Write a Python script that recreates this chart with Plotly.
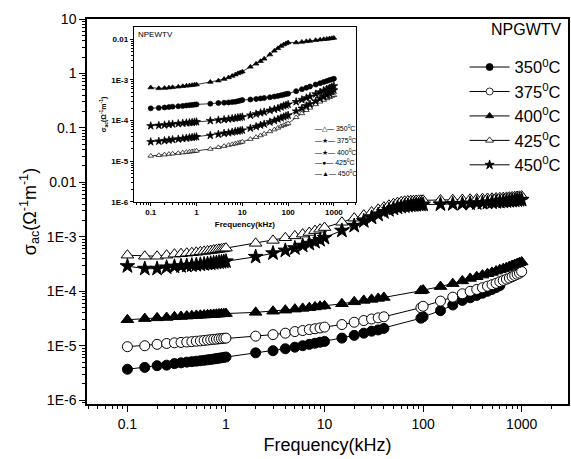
import plotly.graph_objects as go

# ---------------- main-plot data (frequency in kHz, conductivity in S/m) ----------------
F_DENSE = [0.1, 0.15, 0.2, 0.25, 0.3, 0.35, 0.4, 0.45, 0.5, 0.55, 0.6, 0.65, 0.7, 0.75,
           0.8, 0.85, 0.9, 0.95, 1, 2, 3, 4, 5, 6, 7, 8, 9, 10, 15, 20, 25, 30, 35, 40]
F_LOW_TAIL = [95, 100, 150, 200, 250, 300, 350, 400, 450, 500, 550, 600, 650, 700, 750,
              800, 850, 900, 950, 1000]
F_HIGH_TAIL = [45, 50, 55, 60, 65, 70, 75, 80, 85, 90, 95, 100, 150, 200, 250, 300, 350,
               400, 450, 500, 550, 600, 650, 700, 750, 800, 850, 900, 950, 1000]

F_350 = F_DENSE + [95, 100, 150, 200, 250, 300, 350, 400, 450, 500, 550, 600]
F_375 = F_DENSE + F_LOW_TAIL
F_400 = F_DENSE + F_LOW_TAIL
F_425 = F_DENSE + F_HIGH_TAIL
F_450 = F_DENSE + F_HIGH_TAIL

S_350 = [3.7e-6, 4.0e-6, 4.3e-6, 4.4e-6, 4.7e-6, 4.85e-6, 5.0e-6, 5.1e-6, 5.2e-6, 5.3e-6,
         5.4e-6, 5.5e-6, 5.6e-6, 5.7e-6, 5.8e-6, 5.9e-6, 6.0e-6, 6.1e-6, 6.2e-6,
         7.4e-6, 8.1e-6, 8.8e-6, 9.4e-6, 1.0e-5, 1.06e-5, 1.11e-5, 1.16e-5, 1.2e-5,
         1.38e-5, 1.55e-5, 1.7e-5, 1.85e-5, 1.95e-5, 2.08e-5,
         3.2e-5, 3.4e-5, 4.4e-5, 5.6e-5, 6.8e-5, 7.6e-5, 8.4e-5, 9.2e-5, 1.0e-4, 1.08e-4,
         1.17e-4, 1.27e-4]
S_375 = [9.6e-6, 1.0e-5, 1.06e-5, 1.1e-5, 1.13e-5, 1.15e-5, 1.17e-5, 1.19e-5, 1.21e-5,
         1.23e-5, 1.25e-5, 1.27e-5, 1.29e-5, 1.31e-5, 1.32e-5, 1.34e-5, 1.35e-5, 1.37e-5,
         1.38e-5,
         1.5e-5, 1.6e-5, 1.7e-5, 1.82e-5, 1.9e-5, 1.98e-5, 2.05e-5, 2.12e-5, 2.2e-5,
         2.45e-5, 2.7e-5, 2.9e-5, 3.1e-5, 3.25e-5, 3.4e-5,
         5.0e-5, 5.3e-5, 6.6e-5, 7.8e-5, 9.0e-5, 1.0e-4, 1.08e-4, 1.16e-4, 1.24e-4, 1.32e-4,
         1.4e-4, 1.5e-4, 1.58e-4, 1.67e-4, 1.75e-4, 1.85e-4, 1.95e-4, 2.05e-4, 2.15e-4, 2.3e-4]
S_400 = [3.0e-5, 3.15e-5, 3.25e-5, 3.3e-5, 3.4e-5, 3.45e-5, 3.5e-5, 3.55e-5, 3.6e-5,
         3.63e-5, 3.66e-5, 3.7e-5, 3.73e-5, 3.76e-5, 3.79e-5, 3.82e-5, 3.85e-5, 3.88e-5,
         3.9e-5,
         4.1e-5, 4.3e-5, 4.5e-5, 4.7e-5, 4.85e-5, 5.0e-5, 5.15e-5, 5.3e-5, 5.4e-5,
         5.9e-5, 6.4e-5, 6.8e-5, 7.1e-5, 7.4e-5, 7.7e-5,
         1.02e-4, 1.05e-4, 1.22e-4, 1.38e-4, 1.55e-4, 1.72e-4, 1.85e-4, 1.98e-4, 2.1e-4,
         2.22e-4, 2.35e-4, 2.48e-4, 2.6e-4, 2.72e-4, 2.85e-4, 2.98e-4, 3.1e-4, 3.22e-4,
         3.35e-4, 3.45e-4]
S_425 = [4.6e-4, 4.4e-4, 4.4e-4, 4.6e-4, 4.8e-4, 4.9e-4, 5.0e-4, 5.1e-4, 5.2e-4, 5.3e-4,
         5.4e-4, 5.5e-4, 5.6e-4, 5.7e-4, 5.8e-4, 5.9e-4, 6.0e-4, 6.1e-4, 6.2e-4,
         7.6e-4, 8.6e-4, 9.6e-4, 1.04e-3, 1.12e-3, 1.2e-3, 1.3e-3, 1.38e-3, 1.48e-3,
         1.85e-3, 2.2e-3, 2.5e-3, 2.85e-3, 3.2e-3, 3.5e-3,
         3.8e-3, 4.05e-3, 4.25e-3, 4.4e-3, 4.5e-3, 4.55e-3, 4.6e-3, 4.62e-3, 4.65e-3,
         4.67e-3, 4.68e-3, 4.7e-3, 4.75e-3, 4.8e-3, 4.85e-3, 4.9e-3, 4.95e-3, 5.0e-3,
         5.05e-3, 5.1e-3, 5.15e-3, 5.2e-3, 5.25e-3, 5.3e-3, 5.35e-3, 5.4e-3, 5.45e-3,
         5.5e-3, 5.55e-3, 5.6e-3]
S_450 = [2.9e-4, 2.6e-4, 2.6e-4, 2.75e-4, 2.85e-4, 2.9e-4, 2.95e-4, 3.0e-4, 3.05e-4,
         3.1e-4, 3.15e-4, 3.2e-4, 3.25e-4, 3.3e-4, 3.35e-4, 3.4e-4, 3.45e-4, 3.5e-4, 3.55e-4,
         4.3e-4, 5.0e-4, 5.6e-4, 6.2e-4, 6.9e-4, 7.5e-4, 8.1e-4, 8.8e-4, 9.6e-4,
         1.3e-3, 1.6e-3, 1.95e-3, 2.25e-3, 2.55e-3, 2.85e-3,
         3.1e-3, 3.3e-3, 3.45e-3, 3.55e-3, 3.65e-3, 3.72e-3, 3.78e-3, 3.82e-3, 3.85e-3,
         3.88e-3, 3.9e-3, 3.92e-3, 3.95e-3, 4.0e-3, 4.05e-3, 4.1e-3, 4.15e-3, 4.2e-3,
         4.25e-3, 4.3e-3, 4.35e-3, 4.4e-3, 4.45e-3, 4.5e-3, 4.55e-3, 4.6e-3, 4.65e-3,
         4.7e-3, 4.75e-3, 4.8e-3]

# ---------------- inset data ----------------
F_IN = [0.1, 0.15, 0.2, 0.25, 0.3, 0.4, 0.5, 0.6, 0.7, 0.8, 0.9, 1,
        2, 3, 4, 5, 6, 7, 8, 9, 10,
        15, 20, 25, 30, 40, 50, 60, 70, 80, 90, 100,
        150, 200, 250, 300, 400, 500, 600, 700, 800, 900, 1000]
I_350 = [1.35e-5, 1.4e-5, 1.45e-5, 1.5e-5, 1.53e-5, 1.58e-5, 1.63e-5, 1.67e-5, 1.7e-5,
         1.74e-5, 1.77e-5, 1.8e-5,
         2.0e-5, 2.2e-5, 2.35e-5, 2.5e-5, 2.6e-5, 2.7e-5, 2.8e-5, 2.9e-5, 3.0e-5,
         3.5e-5, 3.9e-5, 4.3e-5, 4.7e-5, 5.4e-5, 6.0e-5, 6.6e-5, 7.2e-5, 7.7e-5, 8.1e-5, 8.5e-5,
         1.2e-4, 1.5e-4, 1.8e-4, 2.05e-4, 2.5e-4, 2.9e-4, 3.2e-4, 3.5e-4, 3.75e-4, 4.0e-4, 4.2e-4]
I_375 = [3.0e-5, 3.1e-5, 3.2e-5, 3.3e-5, 3.4e-5, 3.5e-5, 3.6e-5, 3.7e-5, 3.8e-5, 3.85e-5,
         3.95e-5, 4.0e-5,
         4.3e-5, 4.6e-5, 4.85e-5, 5.0e-5, 5.2e-5, 5.4e-5, 5.5e-5, 5.65e-5, 5.8e-5,
         6.5e-5, 7.1e-5, 7.7e-5, 8.2e-5, 9.2e-5, 1.0e-4, 1.08e-4, 1.16e-4, 1.23e-4, 1.3e-4,
         1.35e-4,
         1.7e-4, 2.0e-4, 2.3e-4, 2.55e-4, 3.0e-4, 3.5e-4, 3.9e-4, 4.3e-4, 4.7e-4, 5.1e-4, 5.6e-4]
I_400 = [7.4e-5, 7.6e-5, 7.8e-5, 8.0e-5, 8.2e-5, 8.4e-5, 8.6e-5, 8.8e-5, 8.9e-5, 9.0e-5,
         9.2e-5, 9.3e-5,
         9.9e-5, 1.03e-4, 1.06e-4, 1.09e-4, 1.12e-4, 1.15e-4, 1.18e-4, 1.2e-4, 1.23e-4,
         1.35e-4, 1.45e-4, 1.55e-4, 1.62e-4, 1.78e-4, 1.9e-4, 2.0e-4, 2.15e-4, 2.3e-4,
         2.4e-4, 2.5e-4,
         2.9e-4, 3.25e-4, 3.6e-4, 3.9e-4, 4.5e-4, 5.0e-4, 5.5e-4, 5.9e-4, 6.3e-4, 6.7e-4, 7.1e-4]
I_425 = [2.0e-4, 2.05e-4, 2.1e-4, 2.15e-4, 2.2e-4, 2.25e-4, 2.3e-4, 2.35e-4, 2.4e-4,
         2.43e-4, 2.47e-4, 2.5e-4,
         2.6e-4, 2.7e-4, 2.75e-4, 2.8e-4, 2.85e-4, 2.9e-4, 3.0e-4, 3.1e-4, 3.2e-4,
         3.3e-4, 3.4e-4, 3.5e-4, 3.6e-4, 3.75e-4, 3.9e-4, 4.05e-4, 4.2e-4, 4.35e-4,
         4.5e-4, 4.6e-4,
         5.3e-4, 5.9e-4, 6.4e-4, 6.9e-4, 7.7e-4, 8.3e-4, 8.9e-4, 9.4e-4, 9.9e-4, 1.03e-3,
         1.07e-3]
I_450 = [6.5e-4, 6.2e-4, 6.3e-4, 6.45e-4, 6.6e-4, 6.8e-4, 7.0e-4, 7.15e-4, 7.3e-4,
         7.45e-4, 7.6e-4, 7.7e-4,
         8.9e-4, 9.6e-4, 1.05e-3, 1.15e-3, 1.25e-3, 1.35e-3, 1.45e-3, 1.52e-3, 1.6e-3,
         2.1e-3, 2.5e-3, 2.9e-3, 3.3e-3, 4.2e-3, 5.2e-3, 6.0e-3, 6.8e-3, 7.4e-3, 7.9e-3,
         8.3e-3,
         8.3e-3, 8.6e-3, 8.9e-3, 9.1e-3, 9.5e-3, 9.8e-3, 1.0e-2, 1.02e-2, 1.04e-2, 1.06e-2,
         1.08e-2]

# ---------------- tick labels ----------------
X_TICKS = [0.1, 1, 10, 100, 1000]
X_TEXT = ["0.1", "1", "10", "100", "1000"]
Y_TICKS = [1e-6, 1e-5, 1e-4, 1e-3, 1e-2, 0.1, 1, 10]
Y_TEXT = ["1E-6", "1E-5", "1E-4", "1E-3", "0.01", "0.1", "1", "10"]
YI_TICKS = [1e-6, 1e-5, 1e-4, 1e-3, 1e-2]
YI_TEXT = ["1E-6", "1E-5", "1E-4", "1E-3", "0.01"]
LABELS = ["350<sup>0</sup>C", "375<sup>0</sup>C", "400<sup>0</sup>C", "425<sup>0</sup>C",
          "450<sup>0</sup>C"]

FONT = "Arial, Liberation Sans, sans-serif"
fig = go.Figure()

main_series = [
    (F_350, S_350, "circle", "black", 10, 7),
    (F_375, S_375, "circle", "white", 10, 7),
    (F_400, S_400, "triangle-up", "black", 11, 7),
    (F_425, S_425, "triangle-up", "white", 11, 7),
    (F_450, S_450, "star", "black", 11, 7),
]
for (fx, sy, sym, fill, size, lsize), lab in zip(main_series, LABELS):
    fig.add_trace(go.Scatter(
        x=fx, y=sy, mode="lines+markers", name=lab, showlegend=False,
        line=dict(color="black", width=1),
        marker=dict(symbol=sym, color=fill, size=size, line=dict(color="black", width=1)),
        xaxis="x", yaxis="y"))
# legend-only entries (smaller glyphs, like the reference legend)
for (fx, sy, sym, fill, size, lsize), lab in zip(main_series, LABELS):
    fig.add_trace(go.Scatter(
        x=[None], y=[None], mode="lines+markers", name=lab, showlegend=True,
        line=dict(color="black", width=1),
        marker=dict(symbol=sym, color=fill, size=lsize, line=dict(color="black", width=0.8)),
        xaxis="x", yaxis="y"))

inset_series = [
    (I_350, "triangle-up", "white", 5),
    (I_375, "star", "black", 6),
    (I_400, "star", "black", 6),
    (I_425, "circle", "black", 5),
    (I_450, "triangle-up", "black", 5),
]
for (sy, sym, fill, size), lab in zip(inset_series, LABELS):
    fig.add_trace(go.Scatter(
        x=F_IN, y=sy, mode="lines+markers", name=lab, showlegend=False,
        line=dict(color="black", width=0.8),
        marker=dict(symbol=sym, color=fill, size=size, line=dict(color="black", width=0.7)),
        xaxis="x2", yaxis="y2"))

axis_common = dict(type="log", showgrid=False, zeroline=False, showline=True,
                   linecolor="black", mirror=True, ticks="outside", tickcolor="black")

fig.update_layout(
    width=571, height=459,
    margin=dict(l=87, r=1, t=19, b=55),
    paper_bgcolor="white", plot_bgcolor="white",
    font=dict(family=FONT, color="black"),
    xaxis=dict(**axis_common, range=[-1.41, 3.47], linewidth=1.5, ticklen=6,
               tickvals=X_TICKS, ticktext=X_TEXT, tickfont=dict(size=14),
               minor=dict(ticks="outside", ticklen=3, dtick="D1", tickcolor="black"),
               title=dict(text="Frequency(kHz)", font=dict(size=18), standoff=8)),
    yaxis=dict(**axis_common, range=[-6.07, 1.0], linewidth=1.5, ticklen=6,
               tickvals=Y_TICKS, ticktext=Y_TEXT, tickfont=dict(size=14),
               minor=dict(ticks="outside", ticklen=3, dtick="D1", tickcolor="black"),
               title=dict(text="σ<sub>ac</sub>(Ω<sup>-1</sup>m<sup>-1</sup>)",
                          font=dict(size=18), standoff=6)),
    xaxis2=dict(**axis_common, domain=[0.0973, 0.559], anchor="y2",
                range=[-1.37, 3.48], linewidth=1, ticklen=3,
                tickvals=X_TICKS, ticktext=["<b>%s</b>" % t for t in X_TEXT],
                tickfont=dict(size=8),
                minor=dict(ticks="outside", ticklen=2, dtick="D1", tickcolor="black"),
                title=dict(text="<b>Frequency(kHz)</b>", font=dict(size=8), standoff=4)),
    yaxis2=dict(**axis_common, domain=[0.525, 0.979], anchor="x2",
                range=[-6.0, -1.7], linewidth=1, ticklen=3,
                tickvals=YI_TICKS, ticktext=["<b>%s</b>" % t for t in YI_TEXT],
                tickfont=dict(size=8),
                minor=dict(ticks="outside", ticklen=2, dtick="D1", tickcolor="black"),
                title=dict(text="<b>σ<sub>ac</sub>(Ω<sup>-1</sup>m<sup>-1</sup>)</b>",
                           font=dict(size=7), standoff=3)),
    legend=dict(x=0.995, xanchor="right", y=0.92, yanchor="top",
                bgcolor="rgba(0,0,0,0)", borderwidth=0,
                font=dict(size=16.5, family=FONT), itemwidth=40, tracegroupgap=0),
)

# main legend title
fig.add_annotation(x=0.992, y=0.972, xref="paper", yref="paper", text="NPGWTV",
                   showarrow=False, xanchor="right", yanchor="middle",
                   font=dict(size=16, family=FONT))
# inset label
fig.add_annotation(x=0.01, y=0.995, xref="x2 domain", yref="y2 domain", text="NPEWTV",
                   showarrow=False, xanchor="left", yanchor="top",
                   font=dict(size=8, family=FONT))
# inset legend
INSET_GLYPHS = ["△", "★", "★", "●", "▲"]
INSET_LEG_Y = [0.423, 0.354, 0.286, 0.229, 0.166]
for g, lab, yy in zip(INSET_GLYPHS, LABELS, INSET_LEG_Y):
    fig.add_annotation(x=0.805, y=yy, xref="x2 domain", yref="y2 domain",
                       text="—%s— %s" % (g, lab), showarrow=False,
                       xanchor="left", yanchor="middle",
                       font=dict(size=7, family=FONT))

fig.write_html("out.html", config={"displayModeBar": False},
               post_script="document.body.style.margin='0px';")
